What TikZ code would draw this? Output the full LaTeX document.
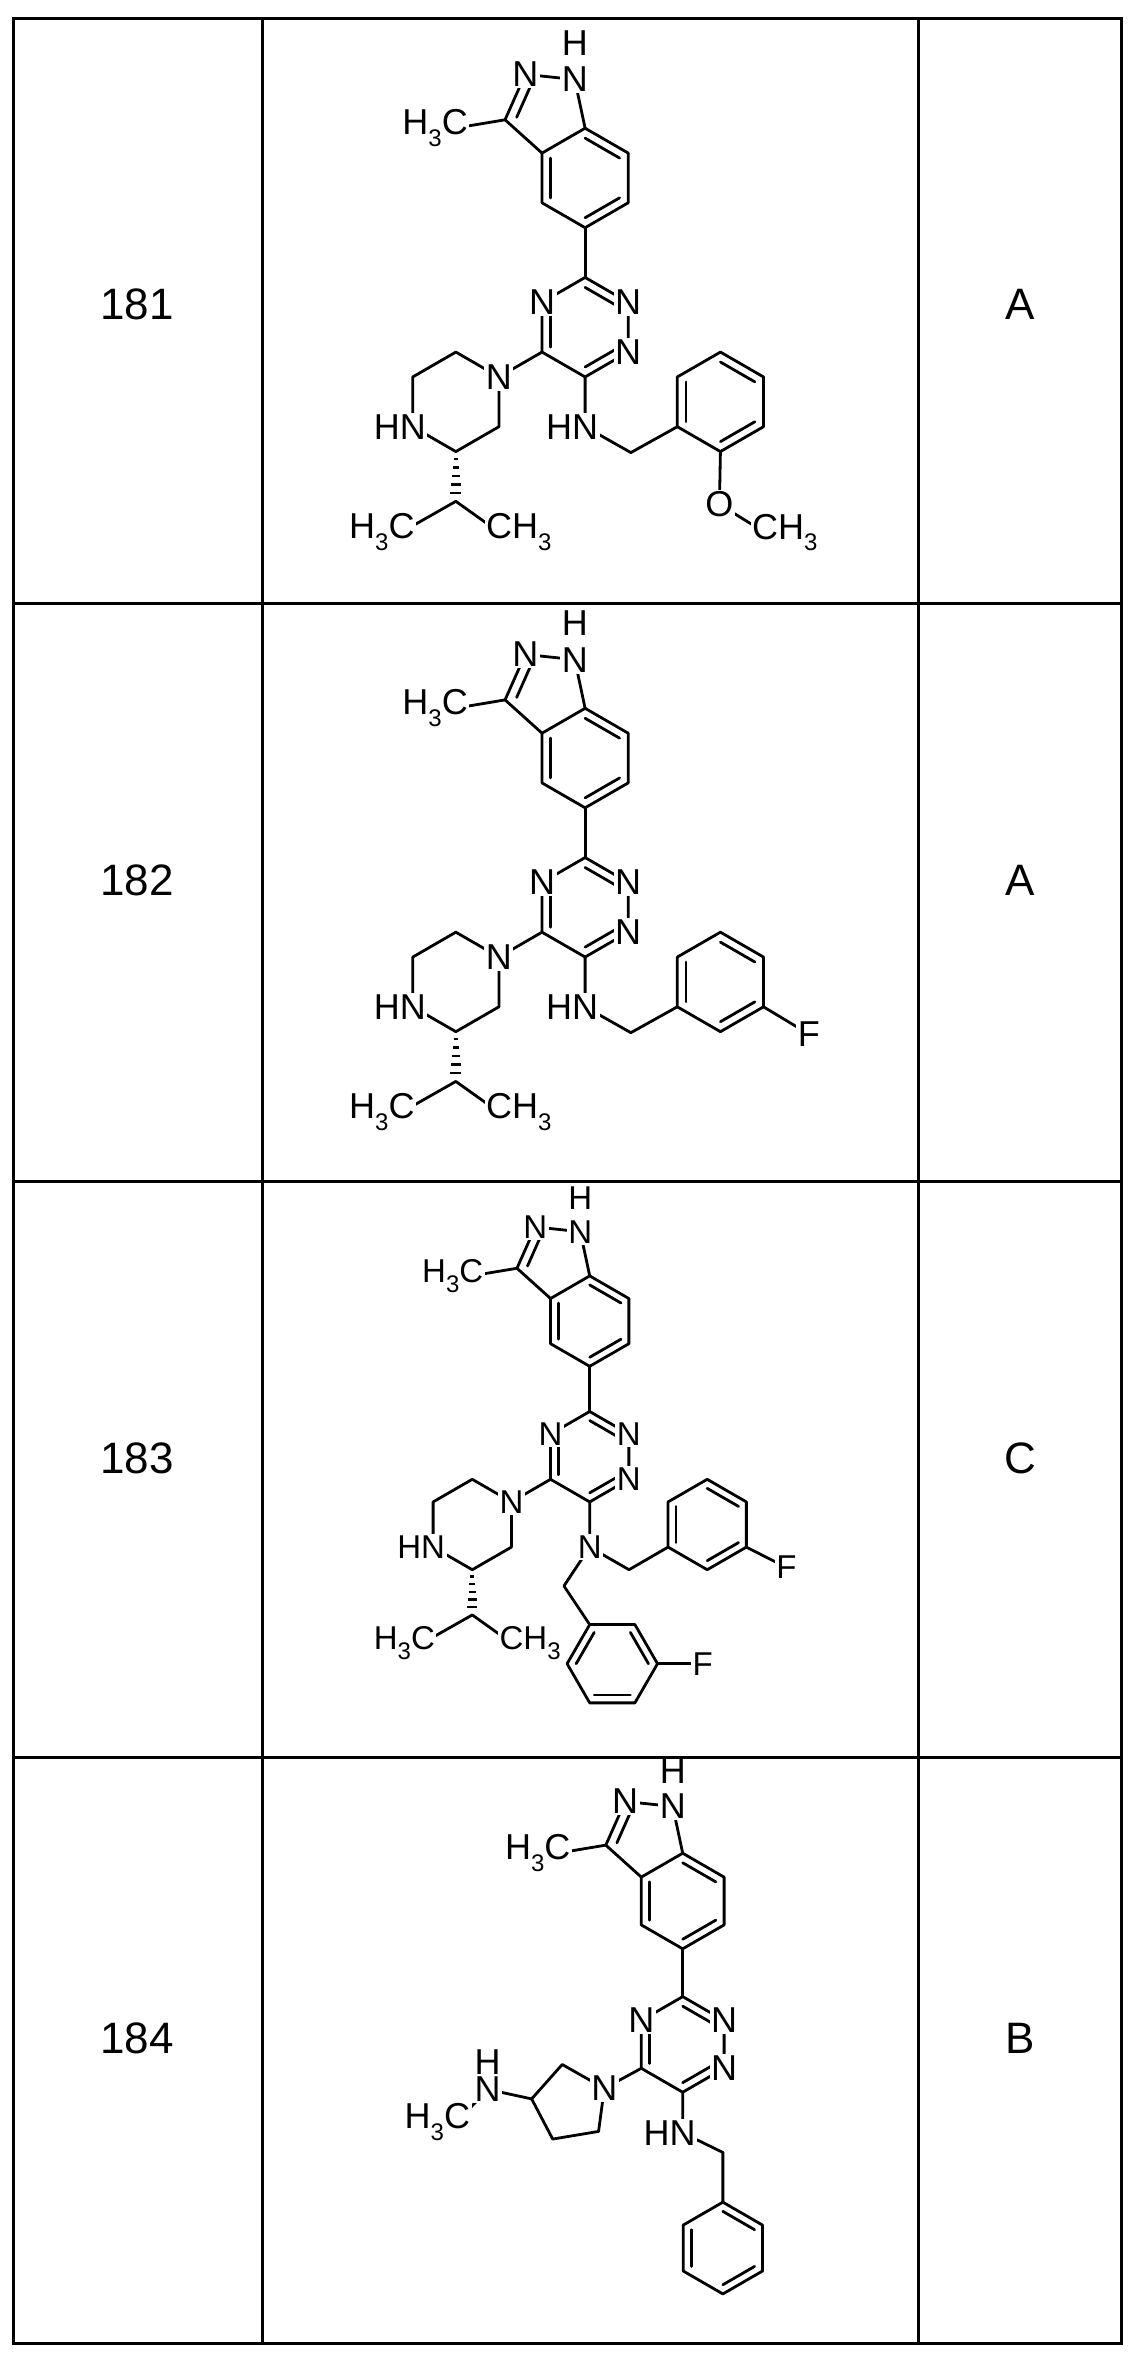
\documentclass[tikz,border=0pt]{standalone}
\usepackage{fontspec}
\setmainfont{Liberation Sans}
\usetikzlibrary{calc}
\newcommand\sub[1]{\raisebox{-0.32em}{\fontsize{24}{24}\selectfont #1}}
\tikzset{bond/.style={line width=2.8pt,line cap=round,line join=round},
 atom/.style={fill=white,inner sep=1.5pt,font=\fontsize{36}{40}\selectfont},
 hatom/.style={inner sep=1pt,font=\fontsize{36}{40}\selectfont},
 lbl/.style={font=\fontsize{44}{48}\selectfont}}
\newcommand\dbl[3]{\draw[bond] ($(#1)!0.2!(#3)$) -- ($(#2)!0.2!(#3)$);}
\newcommand\dblp[3]{\draw[bond] ($(#1)!0.28!(#3)$) -- ($(#2)!0.28!(#3)$);}
\newcommand\indtri{%
 \coordinate (ta) at (0,1); \coordinate (tb) at (0.866,0.5); \coordinate (tc) at (0.866,-0.5);
 \coordinate (td) at (0,-1); \coordinate (te) at (-0.866,-0.5); \coordinate (tf) at (-0.866,0.5); \coordinate (T) at (0,0);
 \coordinate (b1) at (0,2); \coordinate (b2) at (0.866,2.5); \coordinate (b3) at (0.866,3.5);
 \coordinate (b4) at (0,4); \coordinate (b5) at (-0.866,3.5); \coordinate (b6) at (-0.866,2.5); \coordinate (B) at (0,3);
 \coordinate (n1) at (-0.208,4.978); \coordinate (n2) at (-1.203,5.083); \coordinate (c3) at (-1.609,4.169);
 \coordinate (P) at (-0.777,4.346); \coordinate (me) at (-2.62,4.0);
 \draw[bond] (ta)--(tb)--(tc)--(td)--(te)--(tf)--cycle;
 \draw[bond] (b1)--(b2)--(b3)--(b4)--(b5)--(b6)--cycle;
 \draw[bond] (b4)--(n1)--(n2)--(c3)--(b5);
 \draw[bond] (b1)--(ta); \draw[bond] (c3)--(me);
 \dbl{ta}{tb}{T} \dbl{tf}{te}{T} \dbl{tc}{td}{T}
 \dbl{b1}{b2}{B} \dbl{b3}{b4}{B} \dbl{b5}{b6}{B}
 \dblp{c3}{n2}{P}
 \node[atom] at (tb) {N}; \node[atom] at (tc) {N}; \node[atom] at (tf) {N};
 \node[atom] at (n1) {N}; \node[atom] at (n2) {N}; \node[hatom] at (-0.208,5.72) {H};
 \node[atom] at (me) {\llap{H\sub3}C};}
\newcommand\pipz{%
 \coordinate (p1) at (-1.732,-1); \coordinate (p2) at (-2.598,-0.5); \coordinate (p3) at (-3.464,-1);
 \coordinate (p4) at (-3.464,-2); \coordinate (p5) at (-2.598,-2.5); \coordinate (p6) at (-1.732,-2);
 \coordinate (ip) at (-2.598,-3.5); \coordinate (m1) at (-3.69,-4.12); \coordinate (m2) at (-1.73,-4.12);
 \draw[bond] (te)--(p1);
 \draw[bond] (p1)--(p2)--(p3)--(p4)--(p5)--(p6)--cycle;
 \foreach \t in {0.15,0.32,0.49,0.66,0.83}
   \draw[line width=2.5pt] ($(p5)!\t!(ip)$) ++({-0.03-0.1*\t},0) -- ++({0.06+0.2*\t},0);
 \draw[bond] (m1)--(ip)--(m2);
 \node[atom] at (p1) {N}; \node[atom] at (p4) {\llap{H}N};
 \node[atom] at (m1) {\llap{H\sub3}C}; \node[atom] at (m2) {C\rlap{H\sub3}};}
\begin{document}
\begin{tikzpicture}[x=1pt,y=-1pt]
\useasboundingbox (0,0) rectangle (1134,2355);
\fill[white] (0,0) rectangle (1134,2355);
% table
\draw[line width=3pt] (13,19) rectangle (1121,2343);
\draw[line width=3pt] (262,19) -- (262,2343) (918,19) -- (918,2343);
\draw[line width=3pt] (13,603) -- (1121,603) (13,1181) -- (1121,1181) (13,1757) -- (1121,1757);
\node[lbl] (l181) at (137,304) {181}; \node[lbl] (g181) at (1020,304) {A};
\node[lbl] (l182) at (137,880) {182}; \node[lbl] (g182) at (1020,880) {A};
\node[lbl] (l183) at (137,1458) {183}; \node[lbl] (g183) at (1020,1458) {C};
\node[lbl] (l184) at (137,2038) {184}; \node[lbl] (g184) at (1020,2038) {B};
% 181
\begin{scope}[shift={(585.1,327.2)}]\begin{scope}[x=49.75pt,y=49.75pt]
 \indtri \pipz
 \coordinate (nh) at (0,-2); \coordinate (ch) at (0.92,-2.52); \coordinate (c) at (2.72,-1.5);
 \coordinate (r1) at (2.72,-0.5); \coordinate (r2) at (3.586,-1); \coordinate (r3) at (3.586,-2);
 \coordinate (r4) at (2.72,-2.5); \coordinate (r5) at (1.854,-2); \coordinate (r6) at (1.854,-1);
 \coordinate (o) at (2.7,-3.56); \coordinate (mo) at (3.62,-4.13);
 \draw[bond] (td)--(nh)--(ch)--(r5); \draw[bond] (r1)--(r2)--(r3)--(r4)--(r5)--(r6)--cycle;
 \draw[bond] (r4)--(o)--(mo);
 \dbl{r5}{r6}{c} \dbl{r1}{r2}{c} \dbl{r3}{r4}{c}
 \node[atom] at (nh) {\llap{H}N}; \node[atom] at (o) {O}; \node[atom] at (mo) {C\rlap{H\sub3}};
\end{scope}\end{scope}
% 182
\begin{scope}[shift={(585.1,907.3)}]\begin{scope}[x=49.75pt,y=49.75pt]
 \indtri \pipz
 \coordinate (nh) at (0,-2); \coordinate (ch) at (0.92,-2.52); \coordinate (c) at (2.72,-1.5);
 \coordinate (r1) at (2.72,-0.5); \coordinate (r2) at (3.586,-1); \coordinate (r3) at (3.586,-2);
 \coordinate (r4) at (2.72,-2.5); \coordinate (r5) at (1.854,-2); \coordinate (r6) at (1.854,-1);
 \coordinate (f) at (4.5,-2.55);
 \draw[bond] (td)--(nh)--(ch)--(r5); \draw[bond] (r1)--(r2)--(r3)--(r4)--(r5)--(r6)--cycle;
 \draw[bond] (r3)--(f);
 \dbl{r5}{r6}{c} \dbl{r1}{r2}{c} \dbl{r3}{r4}{c}
 \node[atom] at (nh) {\llap{H}N}; \node[atom] at (f) {F};
\end{scope}\end{scope}
% 183
\begin{scope}[shift={(589.7,1456.7)}]\begin{scope}[x=45.2pt,y=45.2pt,
  atom/.append style={font=\fontsize{33}{36}\selectfont},hatom/.append style={font=\fontsize{33}{36}\selectfont}]
 \indtri \pipz
 \coordinate (nn) at (0,-2); \coordinate (ch) at (0.87,-2.5); \coordinate (c) at (2.6,-1.5);
 \coordinate (r1) at (2.6,-0.5); \coordinate (r2) at (3.466,-1); \coordinate (r3) at (3.466,-2);
 \coordinate (r4) at (2.6,-2.5); \coordinate (r5) at (1.734,-2); \coordinate (r6) at (1.734,-1);
 \coordinate (f) at (4.35,-2.45);
 \draw[bond] (td)--(nn)--(ch)--(r5); \draw[bond] (r1)--(r2)--(r3)--(r4)--(r5)--(r6)--cycle;
 \draw[bond] (r3)--(f);
 \dbl{r5}{r6}{c} \dbl{r1}{r2}{c} \dbl{r3}{r4}{c}
 \coordinate (chb) at (-0.57,-2.86); \coordinate (cc) at (0.5,-4.58);
 \coordinate (q1) at (1.5,-4.58); \coordinate (q2) at (1.0,-3.714); \coordinate (q3) at (0.0,-3.714);
 \coordinate (q4) at (-0.5,-4.58); \coordinate (q5) at (0.0,-5.446); \coordinate (q6) at (1.0,-5.446);
 \coordinate (f2) at (2.5,-4.58);
 \draw[bond] (nn)--(chb)--(q3); \draw[bond] (q1)--(q2)--(q3)--(q4)--(q5)--(q6)--cycle;
 \draw[bond] (q1)--(f2);
 \dbl{q3}{q4}{cc} \dbl{q2}{q1}{cc} \dbl{q5}{q6}{cc}
 \node[atom] at (nn) {N}; \node[atom] at (f) {F}; \node[atom] at (f2) {F};
\end{scope}\end{scope}
% 184
\begin{scope}[shift={(682.7,2044.4)}]\begin{scope}[x=47.8pt,y=47.8pt]
 \indtri
 \coordinate (pn) at (-1.64,-0.92); \coordinate (pc2) at (-2.52,-0.42); \coordinate (pc3) at (-3.16,-1.14);
 \coordinate (pc4) at (-2.72,-1.98); \coordinate (pc5) at (-1.76,-1.82);
 \coordinate (an) at (-4.08,-0.94); \coordinate (am) at (-4.72,-1.62);
 \draw[bond] (te)--(pn)--(pc2)--(pc3)--(pc4)--(pc5)--(pn);
 \draw[bond] (pc3)--(an)--(am);
 \coordinate (nh) at (0,-1.85); \coordinate (ch) at (0.84,-2.26); \coordinate (c) at (0.84,-4.26);
 \coordinate (r1) at (0.84,-3.3); \coordinate (r2) at (1.67,-3.78); \coordinate (r3) at (1.67,-4.74);
 \coordinate (r4) at (0.84,-5.22); \coordinate (r5) at (0.01,-4.74); \coordinate (r6) at (0.01,-3.78);
 \draw[bond] (td)--(nh)--(ch)--(r1); \draw[bond] (r1)--(r2)--(r3)--(r4)--(r5)--(r6)--cycle;
 \dbl{r1}{r2}{c} \dbl{r6}{r5}{c} \dbl{r3}{r4}{c}
 \node[atom] at (pn) {N}; \node[atom] at (an) {N}; \node[hatom] at (-4.08,-0.36) {H};
 \node[atom] at (am) {\llap{H\sub3}C}; \node[atom] at (nh) {\llap{H}N};
\end{scope}\end{scope}
\end{tikzpicture}
\end{document}
